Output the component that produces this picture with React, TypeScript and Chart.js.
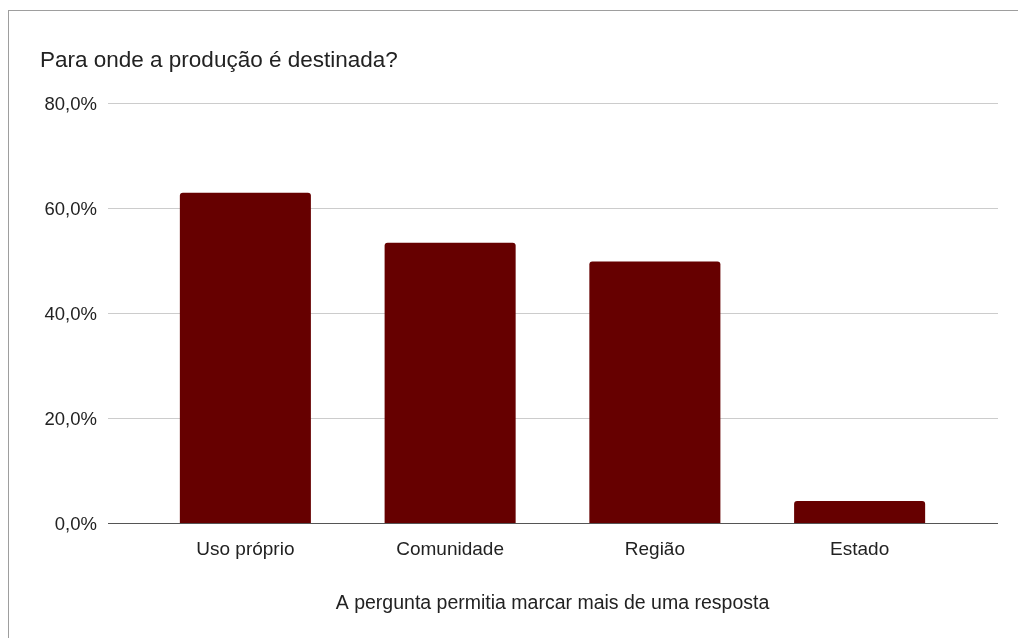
import React, { useEffect, useRef } from "react";
import { Chart, registerables } from "chart.js";

Chart.register(...registerables);

const categories = ["Uso próprio", "Comunidade", "Região", "Estado"];
const shares = [62.9, 53.4, 49.8, 4.2];
const yTicks = [0, 20, 40, 60, 80];

const chartTitle = "Para onde a produção é destinada?";
const xAxisTitle = "A pergunta permitia marcar mais de uma resposta";

const FONT = "Arial, 'Liberation Sans', sans-serif";
const BAR_COLOR = "#660000";

const formatPercent = (v: number) => v.toFixed(1).replace(".", ",") + "%";

// Horizontal gridlines that reach past the bar area on both sides.
const wideGrid = {
  id: "wideGrid",
  beforeDatasetsDraw(chart: any) {
    const y = chart.scales.y;
    const ctx = chart.ctx;
    const x0 = 108;
    const x1 = 998;
    ctx.save();
    yTicks.forEach((t) => {
      const py = Math.round(y.getPixelForValue(t)) + 0.5;
      ctx.beginPath();
      ctx.strokeStyle = t === 0 ? "#555555" : "#cccccc";
      ctx.lineWidth = 1;
      ctx.moveTo(x0, py);
      ctx.lineTo(x1, py);
      ctx.stroke();
    });
    ctx.restore();
  },
};

export default function App() {
  const canvasRef = useRef<HTMLCanvasElement | null>(null);

  useEffect(() => {
    if (!canvasRef.current) return;
    const chart = new Chart(canvasRef.current, {
      type: "bar",
      data: {
        labels: categories,
        datasets: [
          {
            data: shares,
            backgroundColor: BAR_COLOR,
            borderRadius: 3,
            borderSkipped: "bottom",
            barPercentage: 0.64,
            categoryPercentage: 1,
          },
        ],
      },
      plugins: [wideGrid],
      options: {
        animation: false,
        responsive: false,
        maintainAspectRatio: false,
        layout: { padding: { left: 40, right: 56, top: 0, bottom: 15 } },
        plugins: {
          legend: { display: false },
          tooltip: { enabled: false },
          title: {
            display: true,
            text: chartTitle,
            align: "start",
            color: "#222222",
            font: { family: FONT, size: 22.5, weight: "normal" },
            padding: { top: 47, bottom: 29 },
          },
        },
        scales: {
          x: {
            grid: { display: false },
            border: { display: false },
            ticks: {
              color: "#222222",
              font: { family: FONT, size: 19 },
              padding: 7,
              maxRotation: 0,
            },
            title: {
              display: true,
              text: xAxisTitle,
              color: "#222222",
              font: { family: FONT, size: 19.5 },
              padding: { top: 0, bottom: 8 },
            },
            afterFit: (scale: any) => {
              scale.height = 100;
            },
          },
          y: {
            min: 0,
            max: 80,
            grid: { display: false },
            border: { display: false },
            afterBuildTicks: (scale: any) => {
              scale.ticks = yTicks.map((v) => ({ value: v }));
            },
            ticks: {
              stepSize: 20,
              color: "#222222",
              font: { family: FONT, size: 18.5 },
              padding: 38,
              labelOffset: 2,
              callback: (v: any) => formatPercent(Number(v)),
            },
            afterFit: (scale: any) => {
              scale.width = 103;
            },
          },
        },
      },
    });
    return () => chart.destroy();
  }, []);

  return (
    <div
      style={{
        position: "fixed",
        left: 0,
        top: 0,
        width: 1018,
        height: 638,
        overflow: "hidden",
        background: "#ffffff",
      }}
    >
      <div
        style={{
          position: "absolute",
          left: 8,
          top: 10,
          width: 1030,
          height: 650,
          border: "1px solid #9e9e9e",
          boxSizing: "border-box",
        }}
      />
      <canvas
        ref={canvasRef}
        width={1018}
        height={638}
        style={{ position: "absolute", left: 0, top: 0 }}
      />
    </div>
  );
}
